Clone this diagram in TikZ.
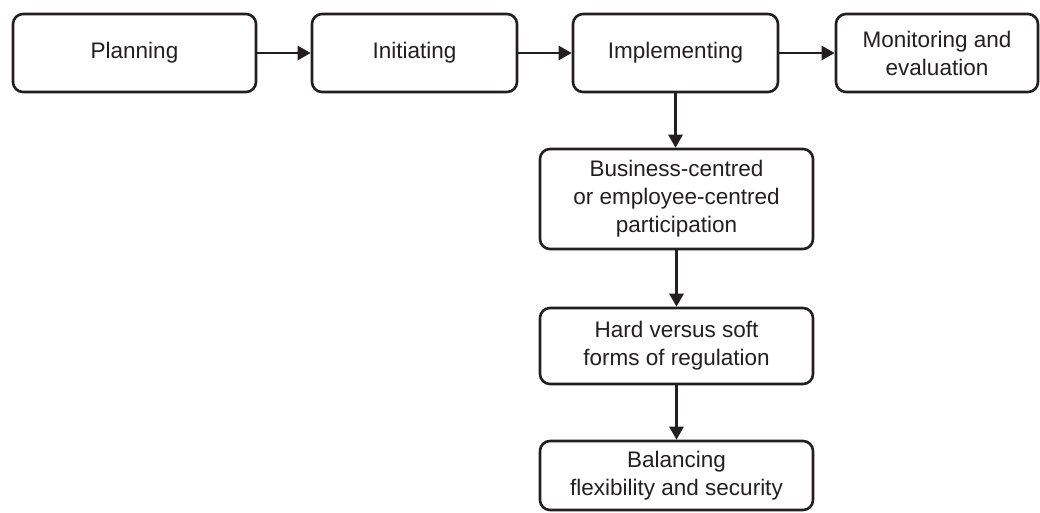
\documentclass[tikz,border=0pt]{standalone}
\usepackage{fontspec}
\setmainfont{Liberation Sans}
\usetikzlibrary{arrows.meta}
\definecolor{ink}{HTML}{231F20}
\begin{document}
\begin{tikzpicture}[x=1pt,y=-1pt,
  stagebox/.style={draw=ink, line width=2.6pt, rounded corners=10pt, fill=white,
    align=center, inner sep=0pt, text=ink,
    font=\fontsize{22.5}{28}\selectfont},
  flow/.style={draw=ink, line width=2.6pt,
    -{Triangle[length=13pt,width=14pt]}}
]
\useasboundingbox (0,0) rectangle (1040,512);

% top row of stages
\node[stagebox, minimum width=243pt, minimum height=78pt] (plan) at (134.5,53) {Planning};
\node[stagebox, minimum width=205pt, minimum height=78pt] (init) at (414.5,53) {Initiating};
\node[stagebox, minimum width=205pt, minimum height=78pt] (impl) at (675.5,53) {Implementing};
\node[stagebox, minimum width=202pt, minimum height=78pt] (moni) at (937,53) {Monitoring and\\evaluation};

% implementation issues
\node[stagebox, minimum width=273pt, minimum height=100pt] (part) at (676.5,199)
  {Business-centred\\or employee-centred\\participation};
\node[stagebox, minimum width=273pt, minimum height=76pt] (regu) at (676.5,346)
  {Hard versus soft\\forms of regulation};
\node[stagebox, minimum width=273pt, minimum height=69pt] (bala) at (676.5,475.5)
  {Balancing\\flexibility and security};

% connectors
\draw[flow] (plan.east) -- (init.west);
\draw[flow] (init.east) -- (impl.west);
\draw[flow] (impl.east) -- (moni.west);
\draw[flow] (impl.south) -- (impl.south |- part.north);
\draw[flow] (part.south) -- (regu.north);
\draw[flow] (regu.south) -- (bala.north);
\end{tikzpicture}
\end{document}
